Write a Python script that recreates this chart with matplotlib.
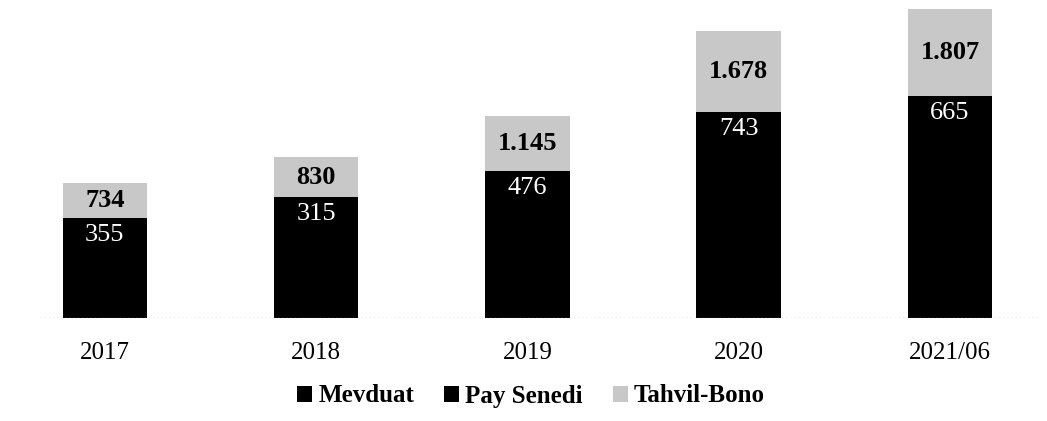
import matplotlib
matplotlib.use("Agg")
import matplotlib.pyplot as plt
import numpy as np

categories = ["2017", "2018", "2019", "2020", "2021/06"]
mevduat = [1728, 2206, 2586, 3549, 3960]      # unlabeled in original (black on black)
pay_senedi = [355, 315, 476, 743, 665]
tahvil_bono = [734, 830, 1145, 1678, 1807]
legend_labels = ["Mevduat", "Pay Senedi", "Tahvil-Bono"]

def fmt(v):
    return f"{v:,}".replace(",", ".")

plt.rcParams['font.family'] = ['Liberation Serif', 'DejaVu Serif']

fig = plt.figure(figsize=(10.47, 4.21), dpi=100)
ax = fig.add_axes([40/1047, (421-318)/421, 1000/1047, 318/421])

x = np.arange(len(categories))
w = 0.40
b1 = ax.bar(x, mevduat, w, color="#000000", label=legend_labels[0])
bottom2 = np.array(mevduat)
b2 = ax.bar(x, pay_senedi, w, bottom=bottom2, color="#000000", label=legend_labels[1])
bottom3 = bottom2 + np.array(pay_senedi)
b3 = ax.bar(x, tahvil_bono, w, bottom=bottom3, color="#c8c8c8", label=legend_labels[2])

for i in range(len(categories)):
    top2 = bottom3[i]
    ax.annotate(fmt(pay_senedi[i]), (x[i], top2), xytext=(0, -12), textcoords="offset points",
                ha="center", va="center", color="white", fontsize=19)
    ax.text(x[i], bottom3[i] + tahvil_bono[i] / 2, fmt(tahvil_bono[i]),
            ha="center", va="center", color="black", fontsize=19, fontweight="bold")

ax.set_xlim(-0.307, 4.426)
ax.set_ylim(0, 318 / 0.048)
ax.axhline(0, color="#9a9a9a", linestyle=(0, (1, 2)), linewidth=1.0)
for s in ax.spines.values():
    s.set_visible(False)
ax.set_yticks([])
ax.set_xticks(x)
ax.set_xticklabels(categories, fontsize=18)
ax.tick_params(axis="x", length=0, pad=17)

fig.legend(handles=[b1, b2, b3], labels=legend_labels, loc="center", ncol=3,
           bbox_to_anchor=(531/1047, 1 - 396/421), frameon=False,
           handlelength=0.6, handleheight=0.6, handletextpad=0.25, columnspacing=1.2,
           prop={"size": 18, "weight": "bold"})

fig.savefig("out.png", dpi=100)
